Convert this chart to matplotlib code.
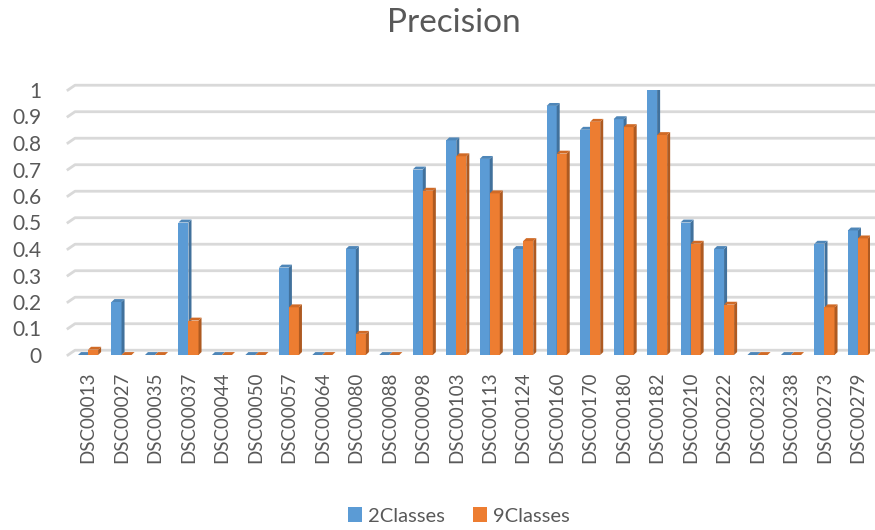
import numpy as np
import matplotlib.pyplot as plt
from matplotlib.patches import Polygon, Patch

# Per-image precision for the two classifiers
images = ["DSC00013", "DSC00027", "DSC00035", "DSC00037", "DSC00044", "DSC00050",
          "DSC00057", "DSC00064", "DSC00080", "DSC00088", "DSC00098", "DSC00103",
          "DSC00113", "DSC00124", "DSC00160", "DSC00170", "DSC00180", "DSC00182",
          "DSC00210", "DSC00222", "DSC00232", "DSC00238", "DSC00273", "DSC00279"]
prec_2 = [0, 0.2, 0, 0.5, 0, 0, 0.33, 0, 0.4, 0, 0.7, 0.81,
          0.74, 0.4, 0.94, 0.85, 0.89, 1.0, 0.5, 0.4, 0, 0, 0.42, 0.47]
prec_9 = [0.02, 0, 0, 0.13, 0, 0, 0.18, 0, 0.08, 0, 0.62, 0.75,
          0.61, 0.43, 0.76, 0.88, 0.86, 0.83, 0.42, 0.19, 0, 0, 0.18, 0.44]
yticks = [0, 0.1, 0.2, 0.3, 0.4, 0.5, 0.6, 0.7, 0.8, 0.9, 1]

plt.rcParams['font.family'] = ['Lato', 'DejaVu Sans']
txt = '#595959'

fig = plt.figure(figsize=(8.75, 5.30), dpi=100)
ax = fig.add_axes([75 / 875, 1 - 355 / 530, 795 / 875, 265 / 530])

bw = 0.3     # bar width
dx = 0.09    # depth in x
dy = 0.011   # depth in y


def bar3d(ax, x, h, face, side, top):
    ax.add_patch(Polygon([(x, 0), (x + bw, 0), (x + bw, h), (x, h)],
                         closed=True, fc=face, ec='none', zorder=3))
    ax.add_patch(Polygon([(x + bw, 0), (x + bw + dx, dy), (x + bw + dx, h + dy), (x + bw, h)],
                         closed=True, fc=side, ec='none', zorder=3))
    ax.add_patch(Polygon([(x, h), (x + bw, h), (x + bw + dx, h + dy), (x + dx, h + dy)],
                         closed=True, fc=top, ec='none', zorder=3))


xs = np.arange(len(images))
for i in xs:
    bar3d(ax, i - bw, prec_2[i], '#5B9BD5', '#41719C', '#4E86B8')
    bar3d(ax, i, prec_9[i], '#ED7D31', '#AE5A21', '#D06A26')

# back-wall gridlines with the little side-wall stub on the left
for t in yticks:
    ax.plot([-0.6, -0.39, 23.5], [t, t + 0.018, t + 0.018], color='#D9D9D9',
            lw=2, zorder=1, clip_on=False)

ax.set_xlim(-0.39, 23.36)
ax.set_ylim(0, 1.0)
for s in ax.spines.values():
    s.set_visible(False)

ax.set_yticks(yticks)
ax.set_yticklabels([f"{t:g}" for t in yticks], fontsize=15, color=txt)
ax.tick_params(axis='y', length=0, pad=24)
ax.set_xticks(xs)
ax.set_xticklabels(images, rotation=90, fontsize=13.5, color=txt)
ax.tick_params(axis='x', length=0, pad=12)

fig.text(454 / 875, 1 - 23 / 530, "Precision", ha='center', va='center', fontsize=24, color=txt)

handles = [Patch(fc='#5B9BD5', ec='none', label='2Classes'),
           Patch(fc='#ED7D31', ec='none', label='9Classes')]
fig.legend(handles=handles, loc='center', bbox_to_anchor=(459 / 875, 1 - 516 / 530),
           ncol=2, frameon=False, fontsize=14.5, labelcolor=txt,
           handlelength=0.7, handleheight=0.7, handletextpad=0.3, columnspacing=1.4)

fig.savefig("out.png", dpi=100)
